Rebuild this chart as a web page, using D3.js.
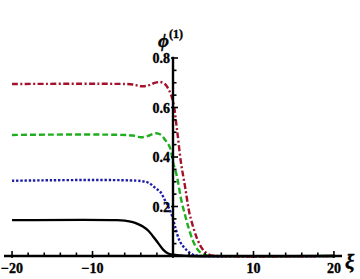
<!DOCTYPE html>
<html>
<head>
<meta charset="utf-8">
<script src="https://cdn.jsdelivr.net/npm/d3@7"></script>
<style>
  body { margin: 0; background: #fff; }
  text { font-family: "Liberation Serif", "DejaVu Serif", serif; font-weight: bold; stroke: #000; stroke-width: 0.35px; }
</style>
</head>
<body>
<div id="chart"></div>
<script>
// curves: xi and phi values
var redXi   = [-20, -6, -5, -4, -3.2, -2.4, -1.6, -1.0, -0.5, 0, 0.5, 1.0, 1.5, 2.0, 2.5, 3.0, 3.5, 4.0, 4.6, 5.5, 20];
var redPhi  = [0.695, 0.695, 0.693, 0.686, 0.688, 0.698, 0.703, 0.695, 0.67, 0.625, 0.51, 0.375, 0.28, 0.18, 0.118, 0.07, 0.036, 0.016, 0.004, 0, 0];

var greenXi  = [-20, -5, -4, -3.2, -2.2, -1.5, -1.0, -0.4, 0, 0.5, 1.0, 1.5, 1.9, 2.5, 3.1, 3.6, 4.2, 5, 20];
var greenPhi = [0.489, 0.487, 0.48, 0.484, 0.496, 0.49, 0.47, 0.44, 0.38, 0.32, 0.23, 0.165, 0.118, 0.06, 0.024, 0.01, 0.002, 0, 0];

var blueXi  = [-20, -4, -3, -2.2, -1.6, -1.0, -0.4, 0, 0.25, 0.87, 1.7, 2.5, 3.5, 20];
var bluePhi = [0.304, 0.303, 0.295, 0.275, 0.26, 0.225, 0.186, 0.15, 0.12, 0.058, 0.024, 0.005, 0, 0];

var blackXi  = [-20, -7, -6, -5, -4.3, -3.7, -3, -2.45, -1.8, -1.2, -0.6, 0, 1, 2, 20];
var blackPhi = [0.145, 0.145, 0.143, 0.137, 0.128, 0.118, 0.1, 0.078, 0.05, 0.025, 0.01, 0.005, 0.002, 0, 0];

var xTicks = [-20, -10, 10, 20];
var yTicks = [0.2, 0.4, 0.6, 0.8];

var width = 360, height = 279;

var svg = d3.select("#chart").append("svg")
  .attr("width", width)
  .attr("height", height);

var x = d3.scaleLinear().domain([-21, 21]).range([4, 342]);
var y = d3.scaleLinear().domain([0, 0.8]).range([256, 58]);

function zip(xs, ys) {
  return xs.map(function(d, i) { return [d, ys[i]]; });
}

var line = d3.line()
  .x(function(d) { return x(d[0]); })
  .y(function(d) { return y(d[1]); })
  .curve(d3.curveCatmullRom);

var series = [
  {data: zip(blackXi, blackPhi), color: "#000000", dash: null},
  {data: zip(blueXi, bluePhi), color: "#1c1ca6", dash: "2.4,1.8"},
  {data: zip(greenXi, greenPhi), color: "#1fae1f", dash: "6,3"},
  {data: zip(redXi, redPhi), color: "#a3112b", dash: "6,2.4,2,2.4"}
];

series.forEach(function(s) {
  svg.append("path")
    .datum(s.data)
    .attr("d", line)
    .attr("fill", "none")
    .attr("stroke", s.color)
    .attr("stroke-width", 2.4)
    .attr("stroke-dasharray", s.dash);
});

// x axis with minor ticks, ticks point up
var xAxis = svg.append("g");
xAxis.append("line")
  .attr("x1", x(-21)).attr("x2", x(21))
  .attr("y1", y(0)).attr("y2", y(0))
  .attr("stroke", "#000").attr("stroke-width", 2.4);

d3.range(-20, 21, 2).forEach(function(v) {
  var major = v % 10 === 0;
  xAxis.append("line")
    .attr("x1", x(v)).attr("x2", x(v))
    .attr("y1", y(0) + (major ? 2 : 0)).attr("y2", y(0) - (major ? 5 : 3.5))
    .attr("stroke", "#000").attr("stroke-width", 1.6);
});

xAxis.selectAll("text.tick")
  .data(xTicks)
  .enter().append("text")
  .attr("x", function(d) { return x(d); })
  .attr("y", 273)
  .attr("text-anchor", "middle")
  .style("font-size", "14px")
  .text(function(d) { return d < 0 ? "\u2212" + Math.abs(d) : d; });

// y axis, ticks point right
var yAxis = svg.append("g");
yAxis.append("line")
  .attr("x1", x(0)).attr("x2", x(0))
  .attr("y1", y(0)).attr("y2", y(0.805))
  .attr("stroke", "#000").attr("stroke-width", 2.4);

d3.range(1, 17).forEach(function(i) {
  var v = i * 0.05;
  var major = i % 4 === 0;
  yAxis.append("line")
    .attr("x1", x(0) - (major ? 2 : 0)).attr("x2", x(0) + (major ? 5 : 3.5))
    .attr("y1", y(v)).attr("y2", y(v))
    .attr("stroke", "#000").attr("stroke-width", 1.6);
});

yAxis.selectAll("text.tick")
  .data(yTicks)
  .enter().append("text")
  .attr("x", x(0) - 3)
  .attr("y", function(d) { return y(d) + 5; })
  .attr("text-anchor", "end")
  .style("font-size", "14px")
  .text(function(d) { return d3.format(".1f")(d); });

// axis labels
var phi = svg.append("text")
  .attr("x", 158)
  .attr("y", 47)
  .style("font-size", "19px")
  .style("font-style", "italic");
phi.append("tspan").text("\u03d5");
phi.append("tspan")
  .attr("dy", -9)
  .style("font-size", "12px")
  .style("font-style", "normal")
  .text("(1)");

svg.append("text")
  .attr("x", 345)
  .attr("y", 269)
  .style("font-size", "21px")
  .style("font-style", "italic")
  .text("\u03be");
</script>
</body>
</html>
